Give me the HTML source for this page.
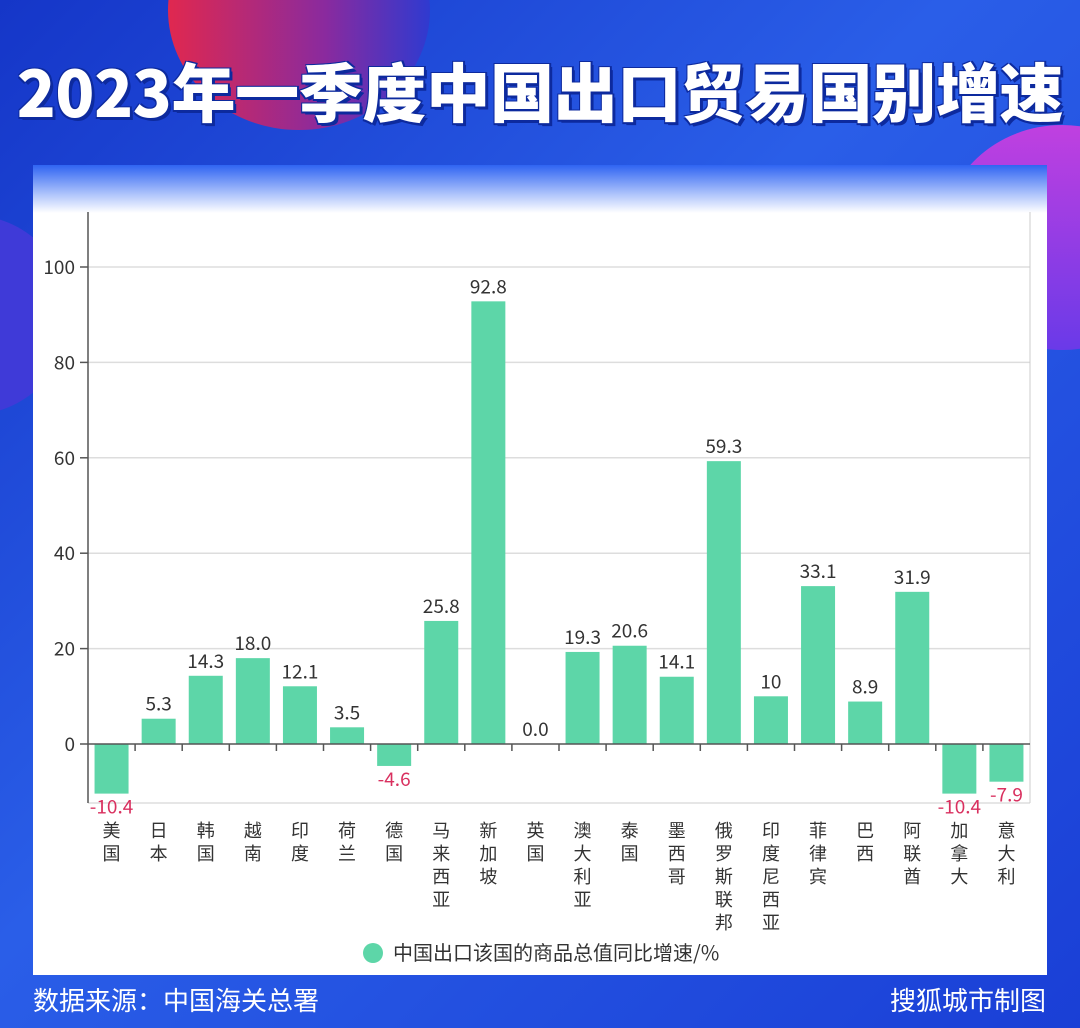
<!DOCTYPE html>
<html><head><meta charset="utf-8">
<style>
body{margin:0;width:1080px;height:1028px;overflow:hidden;font-family:"Noto Sans CJK SC","Liberation Sans",sans-serif;}
#bg{position:absolute;left:0;top:0;width:1080px;height:1028px;background:linear-gradient(135deg,#1536c8 0%,#2a5ee8 45%,#1a3fd6 100%);overflow:hidden;}
.circ{position:absolute;border-radius:50%;}
#title{position:absolute;left:0;top:50px;width:1080px;text-align:center;color:#fff;font-size:64px;font-weight:900;font-family:"Noto Sans CJK SC","WenQuanYi Zen Hei",sans-serif;letter-spacing:-0.3px;text-shadow:3px 3px 0 #0d2a9e,-1px -1px 0 #0d2a9e,2px -1px 0 #0d2a9e,-1px 2px 0 #0d2a9e;white-space:nowrap;line-height:80px;}
#panel{position:absolute;left:33px;top:165px;width:1014px;height:810px;background:linear-gradient(180deg,#2f64f2 0px,#a9c0fb 28px,#ffffff 48px,#fff 100%);}
.foot{position:absolute;top:982px;color:#fff;font-size:26px;font-family:"Noto Sans CJK SC",sans-serif;line-height:36px;}
</style></head><body>
<div id="bg">
<div class="circ" style="left:168px;top:-110px;width:262px;height:240px;background:linear-gradient(90deg,#e0284f,#8a2a9e 60%,#2f3ad0);"></div>
<div class="circ" style="left:942px;top:125px;width:240px;height:225px;background:linear-gradient(180deg,#c040e0,#6a3ae8);"></div>
<div class="circ" style="left:-130px;top:215px;width:200px;height:200px;background:#3f3ad8;"></div>
</div>
<div id="title">2023年一季度中国出口贸易国别增速</div>
<div id="panel"></div>
<svg id="chart" width="1080" height="1028" style="position:absolute;left:0;top:0"></svg>
<div class="foot" style="left:33px">数据来源：中国海关总署</div>
<div class="foot" style="right:34px">搜狐城市制图</div>
<script>
const categories=["美国","日本","韩国","越南","印度","荷兰","德国","马来西亚","新加坡","英国","澳大利亚","泰国","墨西哥","俄罗斯联邦","印度尼西亚","菲律宾","巴西","阿联酋","加拿大","意大利"];
const values=[-10.4,5.3,14.3,18.0,12.1,3.5,-4.6,25.8,92.8,0.0,19.3,20.6,14.1,59.3,10,33.1,8.9,31.9,-10.4,-7.9];
const valueLabels=["-10.4","5.3","14.3","18.0","12.1","3.5","-4.6","25.8","92.8","0.0","19.3","20.6","14.1","59.3","10","33.1","8.9","31.9","-10.4","-7.9"];
const yTicks=[0,20,40,60,80,100];
const NS="http://www.w3.org/2000/svg";
const svg=document.getElementById('chart');
const X0=88,X1=1030,YTOP=212,YBOT=803;
const y=v=>744-v*4.77;
const band=(X1-X0)/categories.length;
const x=i=>X0+band*i;
function mk(t,a){const e=document.createElementNS(NS,t);for(const k in a)e.setAttribute(k,a[k]);svg.appendChild(e);return e;}
yTicks.forEach(t=>{
 if(t!==0){const g=mk('line',{x1:X0,x2:X1,y1:y(t),y2:y(t),stroke:'#ddd','stroke-width':1.5});
 
 }
 const tk=mk('line',{x1:X0-8,x2:X0,y1:y(t),y2:y(t),stroke:'#555','stroke-width':1.5});
 
 
 const l=mk('text',{x:X0-13,y:y(t)+7,'text-anchor':'end','font-size':19,fill:'#333'});l.textContent=t;
 
 
});
const bl=mk('line',{x1:X0,x2:X1,y1:YBOT,y2:YBOT,stroke:'#ddd','stroke-width':1.5});


const rl=mk('line',{x1:X1,x2:X1,y1:YTOP,y2:YBOT,stroke:'#ccc','stroke-width':1});


categories.forEach((c,i)=>{
 const v=values[i],bw=34,bx=x(i)+(band-bw)/2;
 const r=mk('rect',{x:bx,y:Math.min(y(v),y(0)),width:bw,height:Math.abs(y(v)-y(0)),fill:'#5dd6a8'});
 
 
 const cx=x(i)+band/2;
 const t=mk('text',{x:cx,'text-anchor':'middle','font-size':19,fill:v<0?'#d9305f':'#333',y:v<0?y(v)+20:y(v)-8});
 t.textContent=valueLabels[i];
 
 
 [...c].forEach((ch,j)=>{
  const ct=mk('text',{x:cx,y:837+j*23,'text-anchor':'middle','font-size':18,fill:'#333'});ct.textContent=ch;
  
  
 });
 if(i>0){const tk=mk('line',{x1:x(i),x2:x(i),y1:744,y2:751,stroke:'#555','stroke-width':1.5});
 
 }
});
const ax=mk('line',{x1:X0,x2:X0,y1:YTOP,y2:YBOT,stroke:'#555','stroke-width':1.5});


const zx=mk('line',{x1:X0,x2:X1,y1:744,y2:744,stroke:'#555','stroke-width':1.5});


const lc=mk('circle',{cx:373,cy:953,r:10,fill:'#5dd6a8'});


const lt=mk('text',{x:393,y:960,'font-size':20,fill:'#333'});lt.textContent='中国出口该国的商品总值同比增速/%';


</script>
</body></html>
